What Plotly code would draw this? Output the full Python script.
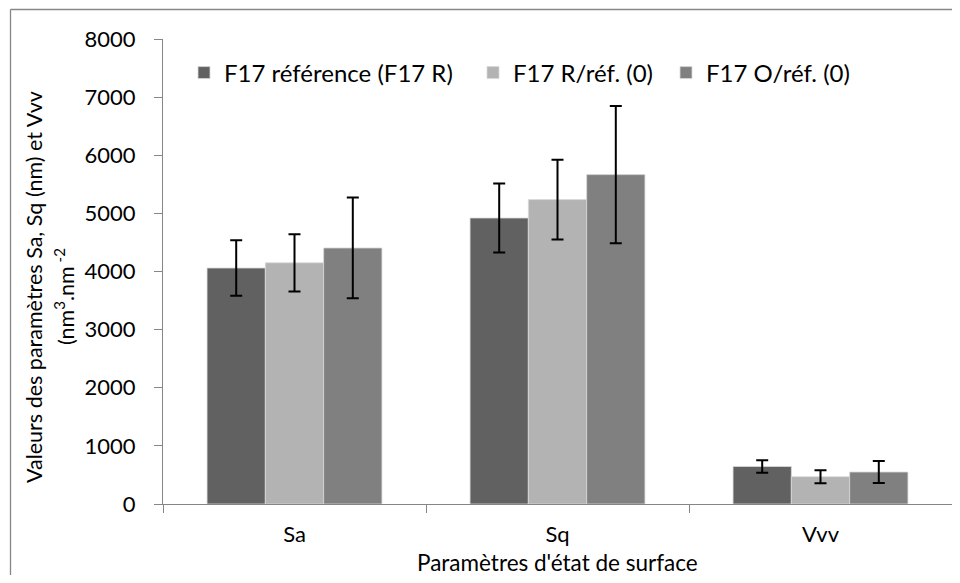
import plotly.graph_objects as go

categories = ["Sa", "Sq", "Vvv"]
series_names = ["F17 référence (F17 R)", "F17 R/réf. (0)", "F17 O/réf. (0)"]
ref_values = [4060, 4920, 645]
r_values = [4150, 5237, 470]
o_values = [4405, 5667, 550]
ref_errors = [476, 593, 107]
r_errors = [492, 687, 112]
o_errors = [867, 1181, 190]
colors = ["#616161", "#b3b3b3", "#808080"]
y_ticks = [0, 1000, 2000, 3000, 4000, 5000, 6000, 7000, 8000]

# page body has an 8px margin: figure kept small enough to avoid scrollbars
OFF = 8
W, H = 944, 567
ML, MR, MT, MB = 155, 0, 31, 71
PW, PH = W - ML - MR, H - MT - MB

def px(x):  # screen pixel -> paper
    return (x - OFF - ML) / PW

def py(y):
    return (H - MB - (y - OFF)) / PH

FONT = "Lato"
AX = "#868686"
legend_ids = ["legend", "legend2", "legend3"]
legend_left = [184, 473, 666]

fig = go.Figure()
for name, vals, errs, col, lg in zip(series_names, [ref_values, r_values, o_values],
                                     [ref_errors, r_errors, o_errors], colors, legend_ids):
    fig.add_trace(go.Bar(
        x=categories, y=vals, name=name, legend=lg,
        marker=dict(color=col, line=dict(color="#d9d9d9", width=0.8)),
        error_y=dict(type="data", array=errs, visible=True,
                     color="black", thickness=2, width=6),
    ))

def leg(xs):
    return dict(orientation="h", x=px(xs), y=py(73), xanchor="left", yanchor="middle",
                font=dict(family=FONT, size=24, color="black"),
                bgcolor="rgba(0,0,0,0)", itemclick=False)

fig.update_layout(
    width=W, height=H,
    margin=dict(l=ML, r=MR, t=MT, b=MB, pad=0),
    paper_bgcolor="white", plot_bgcolor="white",
    barmode="group", bargap=0.335, bargroupgap=0,
    font=dict(family=FONT, size=22, color="black"),
    showlegend=True,
    legend=leg(legend_left[0]),
    legend2=leg(legend_left[1]),
    legend3=leg(legend_left[2]),
    xaxis=dict(type="category", tickson="boundaries", ticks="outside", ticklen=8,
               tickcolor=AX, tickwidth=1, showline=True, linecolor=AX, linewidth=1.3,
               showgrid=False, zeroline=False, ticklabelstandoff=10,
               tickfont=dict(family=FONT, size=22, color="black")),
    yaxis=dict(range=[0, 8000], tickvals=y_ticks, ticktext=[str(v) for v in y_ticks],
               ticks="outside", ticklen=8, tickcolor=AX, tickwidth=1,
               showline=True, linecolor=AX, linewidth=1.3, showgrid=False, zeroline=False,
               ticklabelstandoff=14, tickfont=dict(family=FONT, size=22, color="black")),
)

fig.add_annotation(text="Valeurs des paramètres Sa, Sq (nm) et Vvv",
                   xref="paper", yref="paper", x=px(34), y=py(287),
                   xanchor="center", yanchor="middle", textangle=-90, showarrow=False,
                   font=dict(family=FONT, size=21.5, color="black"))
fig.add_annotation(text="(nm<sup>3</sup>.nm<sup> -2</sup>",
                   xref="paper", yref="paper", x=px(64), y=py(297),
                   xanchor="center", yanchor="middle", textangle=-90, showarrow=False,
                   font=dict(family=FONT, size=21.5, color="black"))
fig.add_annotation(text="Paramètres d'état de surface",
                   xref="paper", yref="paper", x=px(557), y=py(562),
                   xanchor="center", yanchor="middle", showarrow=False,
                   font=dict(family=FONT, size=22.5, color="black"))

# outer chart frame (top and left edges visible in the crop)
fig.add_shape(type="line", xref="paper", yref="paper",
              x0=px(10.5), x1=px(1000), y0=py(9.5), y1=py(9.5),
              line=dict(color=AX, width=1.3), layer="below")
fig.add_shape(type="line", xref="paper", yref="paper",
              x0=px(10.5), x1=px(10.5), y0=py(9.5), y1=py(640),
              line=dict(color=AX, width=1.3), layer="below")

fig.write_html("out.html")
